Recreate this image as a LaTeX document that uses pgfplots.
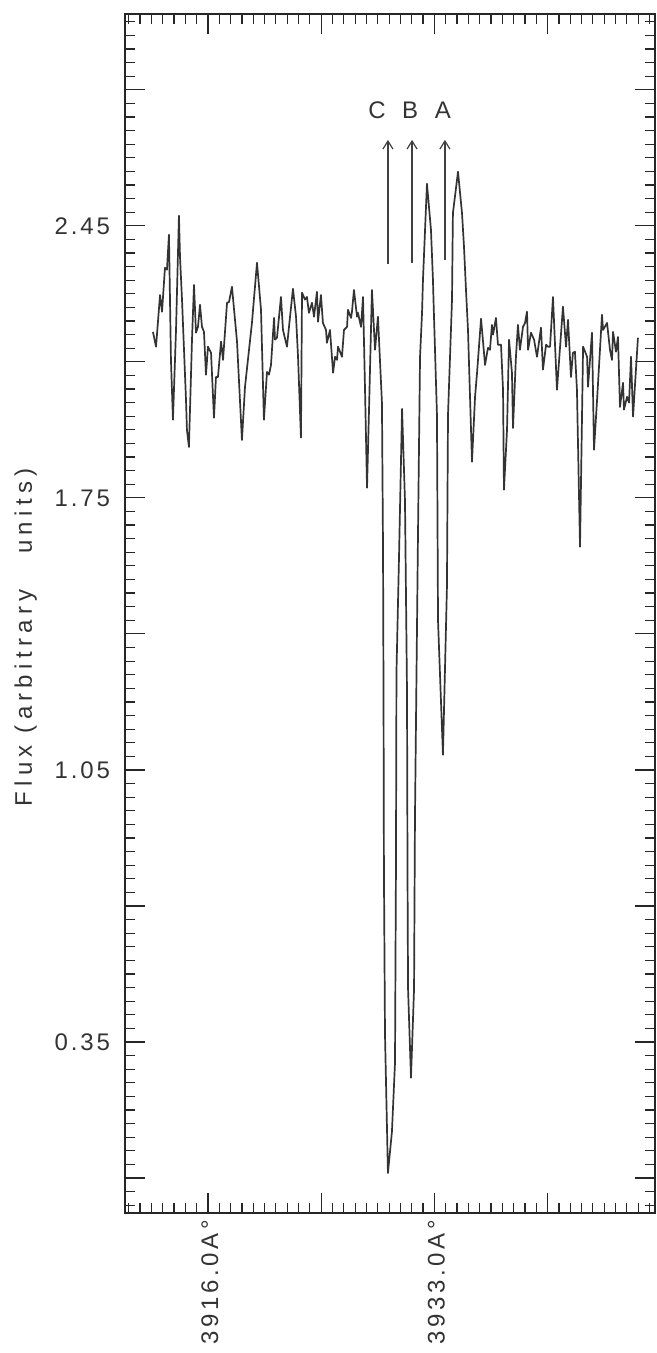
\documentclass[border=0pt]{standalone}
\usepackage{fontspec}
\setmainfont{Liberation Sans}[LetterSpace=12]
\newfontfamily\widefont{Liberation Sans}[LetterSpace=22]
\newfontfamily\tickfont{Liberation Sans}[LetterSpace=15]
\usepackage{pgfplots}
\pgfplotsset{compat=1.18}
\usetikzlibrary{calc,arrows.meta}

\pgfplotstableread{
x y
3911.87 2.177
3912.10 2.139
3912.40 2.272
3912.55 2.229
3912.77 2.342
3912.92 2.337
3913.07 2.427
3913.22 2.105
3913.37 1.951
3913.60 2.182
3913.82 2.476
3913.90 2.370
3914.05 2.260
3914.35 2.002
3914.42 1.925
3914.57 1.881
3914.80 2.157
3914.95 2.298
3915.10 2.175
3915.25 2.190
3915.40 2.247
3915.55 2.190
3915.70 2.177
3915.85 2.067
3916.00 2.139
3916.23 2.123
3916.45 1.956
3916.60 2.061
3916.75 2.061
3916.98 2.152
3917.13 2.105
3917.43 2.252
3917.58 2.254
3917.80 2.293
3918.18 2.152
3918.55 1.899
3918.78 2.036
3919.30 2.200
3919.68 2.355
3919.98 2.234
3920.20 1.951
3920.43 2.074
3920.58 2.067
3920.73 2.092
3920.96 2.213
3921.03 2.157
3921.18 2.162
3921.48 2.267
3921.63 2.182
3921.93 2.139
3922.16 2.216
3922.38 2.288
3922.61 2.216
3922.76 2.113
3922.98 1.905
3923.06 2.278
3923.28 2.260
3923.43 2.267
3923.58 2.226
3923.81 2.252
3923.96 2.216
3924.18 2.280
3924.26 2.203
3924.48 2.272
3924.63 2.200
3924.86 2.182
3924.93 2.149
3925.16 2.182
3925.39 2.072
3925.54 2.113
3925.69 2.105
3925.76 2.139
3926.06 2.113
3926.21 2.182
3926.44 2.190
3926.51 2.234
3926.74 2.213
3926.81 2.229
3926.96 2.285
3927.19 2.216
3927.26 2.226
3927.49 2.190
3927.64 2.267
3927.79 2.028
3927.94 1.776
3928.09 1.977
3928.31 2.285
3928.54 2.131
3928.76 2.216
3929.06 1.995
3929.14 1.624
3929.18 1.225
3929.21 0.783
3929.29 0.368
3929.51 0.013
3929.81 0.119
3930.04 0.296
3930.11 0.783
3930.15 1.300
3930.34 1.596
3930.57 1.979
3930.79 1.742
3930.94 1.256
3930.98 0.783
3931.02 0.487
3931.24 0.258
3931.47 0.487
3931.54 0.929
3931.77 1.668
3931.92 2.113
3932.07 2.226
3932.14 2.311
3932.44 2.558
3932.74 2.440
3932.89 2.311
3932.93 2.260
3933.19 1.964
3933.27 1.434
3933.64 1.089
3933.94 1.521
3934.02 1.964
3934.32 2.260
3934.36 2.396
3934.39 2.483
3934.77 2.589
3935.07 2.483
3935.22 2.396
3935.37 2.285
3935.52 2.182
3935.82 1.843
3936.05 2.010
3936.20 2.072
3936.50 2.211
3936.80 2.092
3937.02 2.136
3937.17 2.131
3937.32 2.195
3937.40 2.170
3937.62 2.213
3937.77 2.144
3938.00 2.144
3938.15 2.028
3938.22 1.771
3938.45 1.925
3938.60 2.157
3938.82 2.072
3938.90 1.930
3939.12 2.113
3939.27 2.195
3939.42 2.131
3939.65 2.190
3939.80 2.200
3939.95 2.229
3940.03 2.131
3940.25 2.175
3940.48 2.157
3940.70 2.113
3941.00 2.188
3941.15 2.080
3941.38 2.144
3941.53 2.139
3941.68 2.139
3941.90 2.267
3942.20 2.028
3942.65 2.242
3942.88 2.139
3943.03 2.208
3943.25 2.061
3943.40 2.123
3943.55 2.126
3943.70 2.028
3943.93 1.624
3944.16 2.139
3944.46 2.113
3944.53 2.036
3944.83 2.175
3944.98 1.874
3945.21 2.002
3945.58 2.221
3945.66 2.182
3945.96 2.200
3946.18 2.131
3946.33 2.105
3946.41 2.177
3946.63 2.126
3946.78 2.164
3946.93 1.984
3947.16 2.046
3947.23 1.977
3947.46 2.010
3947.61 1.995
3947.76 2.113
3947.91 1.959
3948.28 2.162
}\spectrum

\begin{document}
\begin{tikzpicture}
\begin{axis}[
  name=ax,
  scale only axis,
  width=265pt,height=599.5pt,
  xmin=3909.77,xmax=3949.56,
  ymin=-0.09,ymax=2.995,
  axis line style={line width=0.7pt,black!85},
  tick align=inside,
  xtick={3907.5,3916,3924.5,3933,3941.5},
  xticklabels={,3916.0A°,,3933.0A°,},
  minor xtick={3908.35,3909.2,...,3949.6},
  ytick={0,0.35,0.7,1.05,1.4,1.75,2.1,2.45,2.8},
  yticklabels={,0.35,,1.05,,1.75,,2.45,},
  major tick length=10pt,
  minor tick length=5pt,
  tick style={line width=0.6pt,black!85},
  ticklabel style={font=\fontsize{12}{14}\selectfont,text=black!80},
  xticklabel style={font=\tickfont\fontsize{12}{14}\selectfont,rotate=90,anchor=east,yshift=-1pt},
  yticklabel style={xshift=-4pt},
  ylabel={Flux (arbitrary \ \ units)},
  ylabel style={font=\widefont\fontsize{12}{14}\selectfont,text=black!80,
                at={(ticklabel cs:0.48)},yshift=2pt},
  clip=false,
]
\addplot[line width=0.85pt,black!80,line join=round] table[x=x,y=y] {\spectrum};
% line markers
\addplot[line width=0.6pt,black!75,-{Straight Barb[length=4pt,width=5pt]}] coordinates {(3929.51,2.352) (3929.51,2.671)};
\addplot[line width=0.6pt,black!75,-{Straight Barb[length=4pt,width=5pt]}] coordinates {(3931.32,2.355) (3931.32,2.671)};
\addplot[line width=0.6pt,black!75,-{Straight Barb[length=4pt,width=5pt]}] coordinates {(3933.79,2.363) (3933.79,2.671)};
\node[font=\fontsize{12}{14}\selectfont,text=black!80] at (axis cs:3928.69,2.748) {C};
\node[font=\fontsize{12}{14}\selectfont,text=black!80] at (axis cs:3931.17,2.748) {B};
\node[font=\fontsize{12}{14}\selectfont,text=black!80] at (axis cs:3933.64,2.748) {A};
\end{axis}
% second axis only for the short flux ticks
\begin{axis}[
  at={(ax.south west)},anchor=south west,
  scale only axis,
  width=265pt,height=599.5pt,
  xmin=3909.77,xmax=3949.56,
  ymin=-0.09,ymax=2.995,
  axis line style={draw=none},
  tick align=inside,
  xtick=\empty,
  ytick={-0.07,-0.035,0.035,0.07,0.105,0.14,0.175,0.21,0.245,0.28,0.315,
    0.385,0.42,0.455,0.49,0.525,0.56,0.595,0.63,0.665,
    0.735,0.77,0.805,0.84,0.875,0.91,0.945,0.98,1.015,
    1.085,1.12,1.155,1.19,1.225,1.26,1.295,1.33,1.365,
    1.435,1.47,1.505,1.54,1.575,1.61,1.645,1.68,1.715,
    1.785,1.82,1.855,1.89,1.925,1.96,1.995,2.03,2.065,
    2.135,2.17,2.205,2.24,2.275,2.31,2.345,2.38,2.415,
    2.485,2.52,2.555,2.59,2.625,2.66,2.695,2.73,2.765,
    2.835,2.87,2.905,2.94,2.975},
  yticklabels={},
  major tick length=5pt,
  tick style={line width=0.6pt,black!85},
]
\end{axis}
\pgfresetboundingbox
\path ($(ax.south west)+(-62.5pt,-70pt)$) rectangle ($(ax.north east)+(1pt,7pt)$);
\end{tikzpicture}
\end{document}
